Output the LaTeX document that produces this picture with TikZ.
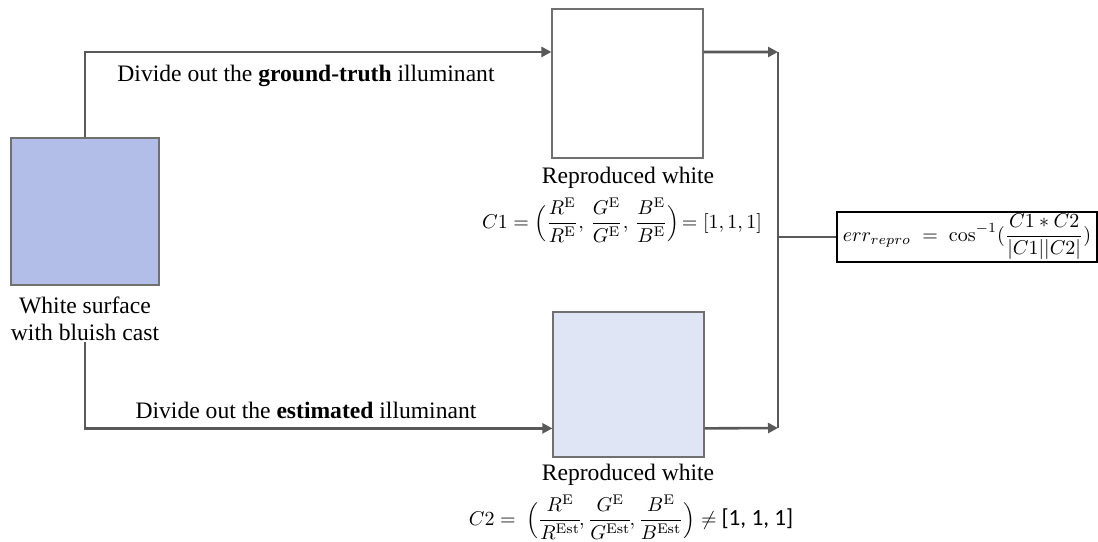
\documentclass[tikz,border=0pt]{standalone}
\usepackage[no-math]{fontspec}
\setmainfont{Liberation Serif}
\newfontfamily\calibri{Carlito}
\usetikzlibrary{arrows.meta,calc,positioning}
\definecolor{wire}{HTML}{595959}
\definecolor{edge}{HTML}{707070}
\definecolor{bluecast}{HTML}{B2BEE8}
\definecolor{paleblue}{HTML}{E0E5F5}
\tikzset{>={Triangle[length=5pt,width=5pt]},
  every node/.style={font=\fontsize{11.8}{13.6}\selectfont},
  flow/.style={->,draw=wire,line width=1.3pt},
  wireline/.style={draw=wire,line width=1.3pt},
  patch/.style={draw=edge,line width=.6pt,inner sep=0pt},
  formbox/.style={draw=black,line width=.6pt,inner sep=0pt},
  formula/.style={font=\fontsize{10.4}{12}\selectfont,inner sep=0pt}}
\begin{document}
\begin{tikzpicture}[x=.5pt,y=-.5pt]
\useasboundingbox (0,0) rectangle (1098,541);
% patches
\node[patch,fill=bluecast,minimum width=74pt,minimum height=73.5pt] (surf) at (85,211.5) {};
\node[patch,fill=white,minimum width=75.5pt,minimum height=74.5pt] (gt) at (627.5,83.5) {};
\node[patch,fill=paleblue,minimum width=75.5pt,minimum height=72.5pt] (est) at (628.5,384.5) {};
\node[formbox,formula,font=\fontsize{9.8}{11}\selectfont,minimum width=130pt,minimum height=25pt] (err) at (967,237)
  {$\displaystyle err_{repro}\;=\;\cos^{-1}(\frac{C1*C2}{|C1||C2|})$};
% labels
\node[align=center] (surflab) at (85,319) {White surface\\with bluish cast};
\node (rep1) at (628,178) {Reproduced white};
\node[formula] (c1) at (622,220) {$\displaystyle C1=\Bigl(\frac{R^{\mathrm{E}}}{R^{\mathrm{E}}},\,\frac{G^{\mathrm{E}}}{G^{\mathrm{E}}},\,\frac{B^{\mathrm{E}}}{B^{\mathrm{E}}}\Bigr)\!=[1,1,1]$};
\node (rep2) at (628,475) {Reproduced white};
\node[formula,font=\fontsize{9.6}{11}\selectfont] (c2) at (631,517) {$\displaystyle C2=\ \Bigl(\frac{R^{\mathrm{E}}}{R^{\mathrm{Est}}}\!,\frac{G^{\mathrm{E}}}{G^{\mathrm{Est}}}\!,\frac{B^{\mathrm{E}}}{B^{\mathrm{Est}}}\Bigr)\neq$ {\calibri\fontsize{11.6}{13}\selectfont [1, 1, 1]}};
\node (gttext) at (306,76) {Divide out the \textbf{ground-truth} illuminant};
\node (esttext) at (306,410) {Divide out the \textbf{estimated} illuminant};
% connectors
\coordinate (jt) at (778,52);\coordinate (jb) at (778,428);
\draw[flow] (surf.north) |- ($(gt.north west)!.29!(gt.south west)$);
\draw[flow] ($(surflab.south)+(0,-6)$) |- ($(est.north west)!.8!(est.south west)$);
\draw[flow] ($(gt.north east)!.29!(gt.south east)$) -- (jt);
\draw[flow] ($(est.north east)!.8!(est.south east)$) -- (jb);
\draw[wireline] (jt) -- (jb);\draw[wireline] (jt|-err.west) -- (err.west);
\end{tikzpicture}
\end{document}
